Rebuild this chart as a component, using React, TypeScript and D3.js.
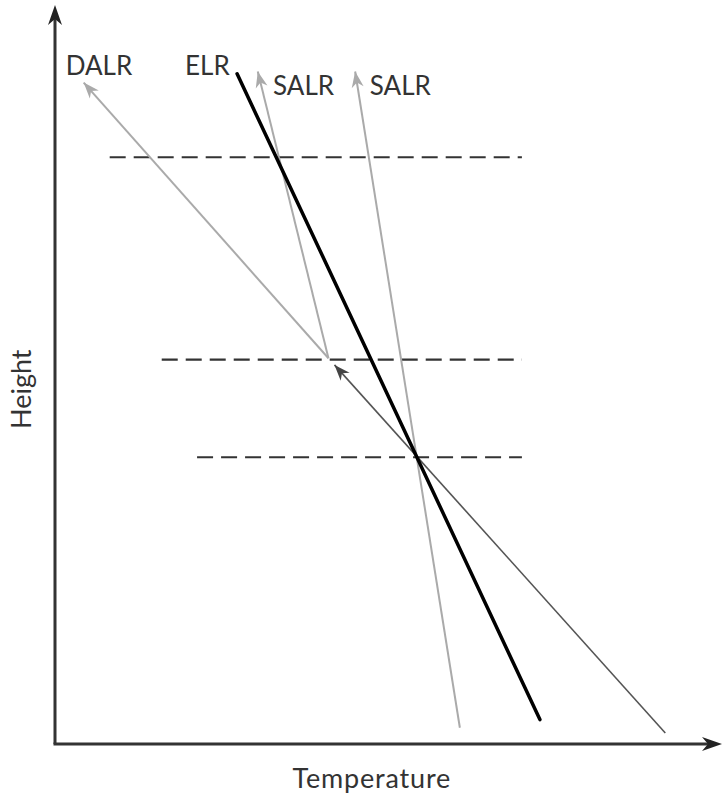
import React from "react";
import * as d3 from "d3";

const W = 722;
const H = 796;

// Abstract data space: temperature and height, 0..100
const xDomain = [0, 100];
const yDomain = [0, 100];

type Pt = [number, number];

const elrLine: Pt[] = [[72.7, 3.3], [27.3, 90.7]];
const dalrLower: Pt[] = [[91.5, 1.5], [41.9, 51.3]];
const dalrUpper: Pt[] = [[41.0, 52.2], [4.3, 89.5]];
const salr1: Pt[] = [[41.0, 52.2], [30.4, 91.0]];
const salr2: Pt[] = [[60.7, 2.2], [45.0, 91.0]];

const dashedLevels = [79.4, 52.0, 38.8];
const dashedStarts = [8.2, 16.0, 21.3];
const dashedEnd = 70.0;

const labelNames = ["DALR", "ELR", "SALR", "SALR"];
const labelX = [1.6, 19.5, 32.7, 47.2];
const labelY = [90.5, 90.5, 87.8, 87.8];

const axisLabels = ["Temperature", "Height"];

export default function App() {
  const x = d3.scaleLinear().domain(xDomain).range([55, 722]);
  const y = d3.scaleLinear().domain(yDomain).range([744, 5]);
  const line = d3.line<Pt>().x((d) => x(d[0])).y((d) => y(d[1]));

  const arrowHead = (p: Pt, from: Pt, len: number, half: number, fill: string, key: string) => {
    const tx = x(p[0]), ty = y(p[1]);
    const fx = x(from[0]), fy = y(from[1]);
    const ang = Math.atan2(ty - fy, tx - fx);
    const ux = Math.cos(ang), uy = Math.sin(ang);
    const bx = tx - ux * len, by = ty - uy * len;
    const ix = tx - ux * len * 0.7, iy = ty - uy * len * 0.7;
    const px = -uy, py = ux;
    const d = `M${tx},${ty}L${bx + px * half},${by + py * half}L${ix},${iy}L${bx - px * half},${by - py * half}Z`;
    return <path key={key} d={d} fill={fill} />;
  };

  const fontFamily = "Lato, 'Open Sans', sans-serif";

  return (
    <svg width={W} height={H} style={{ position: "absolute", left: 0, top: 0 }}>
      <rect width={W} height={H} fill="#fff" />
      {/* dashed levels */}
      {dashedLevels.map((lv, i) => (
        <line
          key={"dl" + i}
          x1={x(dashedStarts[i])}
          x2={x(dashedEnd)}
          y1={y(lv)}
          y2={y(lv)}
          stroke="#333"
          strokeWidth={2.2}
          strokeDasharray="16 8"
        />
      ))}
      {/* DALR upper (light) */}
      <path d={line(dalrUpper) || ""} stroke="#aaa" strokeWidth={2} fill="none" />
      {arrowHead(dalrUpper[1], dalrUpper[0], 16, 6, "#aaa", "a1")}
      {/* SALR lines */}
      <path d={line(salr1) || ""} stroke="#aaa" strokeWidth={2} fill="none" />
      {arrowHead(salr1[1], salr1[0], 16, 6, "#aaa", "a2")}
      <path d={line(salr2) || ""} stroke="#aaa" strokeWidth={2} fill="none" />
      {arrowHead(salr2[1], salr2[0], 16, 6, "#aaa", "a3")}
      {/* DALR lower (dark) */}
      <path d={line(dalrLower) || ""} stroke="#555" strokeWidth={1.6} fill="none" />
      {arrowHead(dalrLower[1], dalrLower[0], 16, 6, "#444", "a4")}
      {/* ELR */}
      <path d={line(elrLine) || ""} stroke="#000" strokeWidth={3.5} fill="none" strokeLinecap="round" />
      {/* axes */}
      <line x1={x(0)} y1={y(0)} x2={x(0)} y2={y(100) + 10} stroke="#333" strokeWidth={3} />
      <line x1={x(0) - 1.5} y1={y(0)} x2={x(100) - 10} y2={y(0)} stroke="#333" strokeWidth={3} />
      {arrowHead([0, 100], [0, 0], 20, 7, "#222", "ay")}
      {arrowHead([100, 0], [0, 0], 20, 7, "#222", "ax")}
      {/* labels */}
      {labelNames.map((n, i) => (
        <text
          key={"lb" + i}
          x={x(labelX[i])}
          y={y(labelY[i])}
          fontFamily={fontFamily}
          fontSize={26}
          fill="#333"
        >
          {n}
        </text>
      ))}
      <text
        x={x(47.5)}
        y={788}
        textAnchor="middle"
        fontFamily={fontFamily}
        fontSize={27}
        letterSpacing={0.8}
        fill="#333"
      >
        {axisLabels[0]}
      </text>
      <text
        transform={`translate(31,${y(48)}) rotate(-90)`}
        textAnchor="middle"
        fontFamily={fontFamily}
        fontSize={27}
        fill="#333"
      >
        {axisLabels[1]}
      </text>
    </svg>
  );
}
